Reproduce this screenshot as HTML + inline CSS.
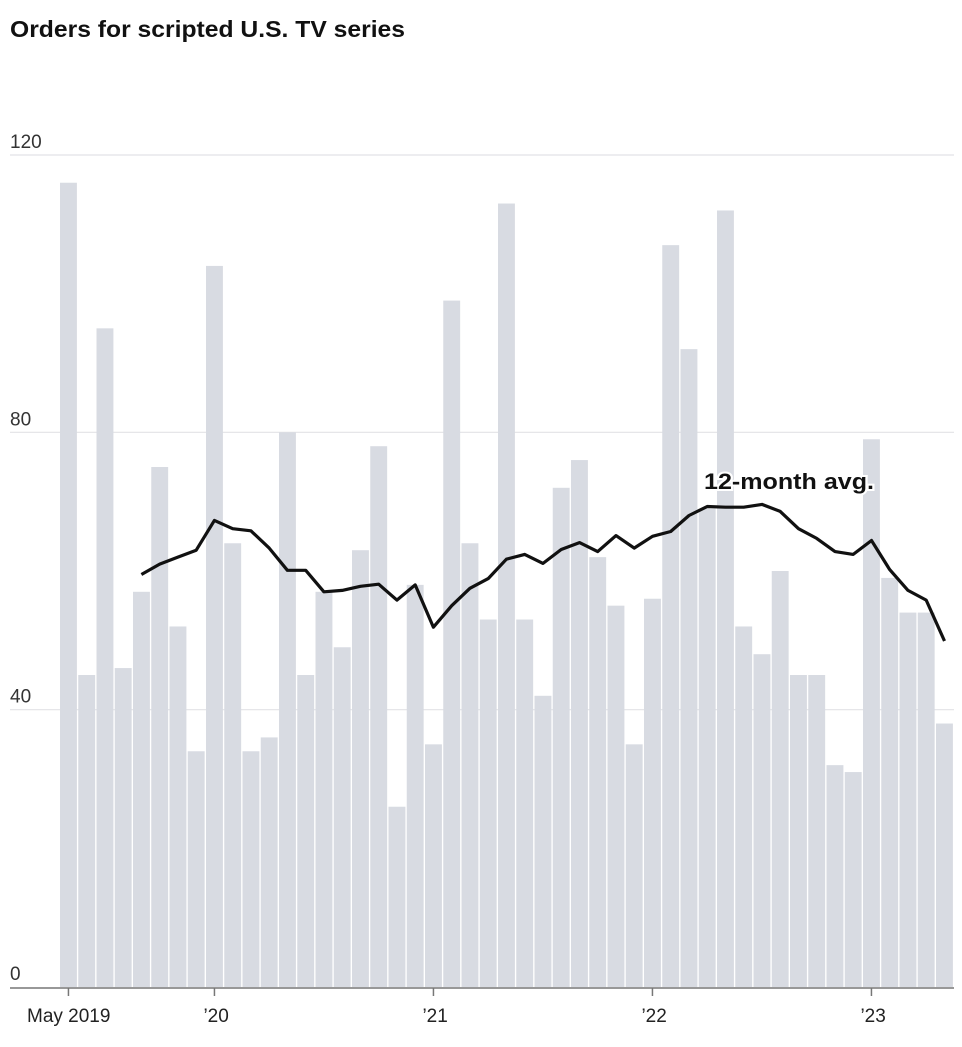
<!DOCTYPE html>
<html><head><meta charset="utf-8">
<style>
body{margin:0;background:#fff;font-family:"Liberation Sans",sans-serif;}
svg text{font-family:"Liberation Sans",sans-serif;}
</style></head>
<body>
<svg id="chart" width="962" height="1042" viewBox="0 0 962 1042">
<text x="10" y="37" font-size="23" font-weight="bold" fill="#111" textLength="395" lengthAdjust="spacingAndGlyphs">Orders for scripted U.S. TV series</text>
<g id="grid"></g><g id="bars"></g><g id="line"></g><g id="axis"></g>
</svg>
<script>
const months = ["May 2019","Jun 2019","Jul 2019","Aug 2019","Sep 2019","Oct 2019","Nov 2019","Dec 2019","Jan 2020","Feb 2020","Mar 2020","Apr 2020","May 2020","Jun 2020","Jul 2020","Aug 2020","Sep 2020","Oct 2020","Nov 2020","Dec 2020","Jan 2021","Feb 2021","Mar 2021","Apr 2021","May 2021","Jun 2021","Jul 2021","Aug 2021","Sep 2021","Oct 2021","Nov 2021","Dec 2021","Jan 2022","Feb 2022","Mar 2022","Apr 2022","May 2022","Jun 2022","Jul 2022","Aug 2022","Sep 2022","Oct 2022","Nov 2022","Dec 2022","Jan 2023","Feb 2023","Mar 2023","Apr 2023","May 2023"];
const orders = [116,45,95,46,57,75,52,34,104,64,34,36,80,45,57,49,63,78,26,58,35,99,64,53,113,53,42,72,76,62,55,35,56,107,92,69,112,52,48,60,45,45,32,31,79,59,54,54,38];
const avg12 = [null,null,null,null,59.5,61,62,63,67.3,66.1,65.8,63.3,60.1,60.1,57,57.2,57.8,58.1,55.8,58,51.9,55,57.5,58.9,61.7,62.4,61.1,63.1,64.1,62.8,65.1,63.3,65,65.7,68,69.3,69.2,69.2,69.6,68.6,66.1,64.7,62.8,62.4,64.4,60.2,57.2,55.8,49.9];
const yTicks = [0,40,80,120];
const xTickIdx = [0,8,20,32,44];
const xTickLabels = ["May 2019","\u201920","\u201921","\u201922","\u201923"];

const NS="http://www.w3.org/2000/svg";
const x0=60, step=18.25, bw=16.9;
const xc=i=>x0+i*step+bw/2;
const y=v=>987-v*(987-155)/120;
function mk(tag,attrs,parent){const e=document.createElementNS(NS,tag);for(const k in attrs)e.setAttribute(k,attrs[k]);parent.appendChild(e);return e;}
const grid=document.getElementById('grid'),bars=document.getElementById('bars'),line=document.getElementById('line'),axis=document.getElementById('axis');
yTicks.forEach(t=>{
  if(t>0){const l=mk('line',{x1:10,x2:954,y1:y(t),y2:y(t),stroke:'#e2e2e6','stroke-width':1.2},grid);
  
  }
  const tx=mk('text',{x:10,y:y(t)-7,'font-size':19,fill:'#333'},grid);tx.textContent=t;
  
  
});
orders.forEach((v,i)=>{
  const r=mk('rect',{x:x0+i*step,y:y(v),width:bw,height:y(0)-y(v),fill:'#d8dbe2'},bars);
  
  
});
let d='';avg12.forEach((v,i)=>{if(v==null)return;d+=(d?'L':'M')+xc(i).toFixed(1)+','+y(v).toFixed(1);});
const p=mk('path',{d:d,fill:'none',stroke:'#111','stroke-width':3.2,'stroke-linejoin':'round'},line);


const lab=mk('text',{x:704,y:489,'font-size':22,'font-weight':'bold',fill:'#111',stroke:'#fff','stroke-width':4,'paint-order':'stroke',textLength:170,lengthAdjust:'spacingAndGlyphs'},line);
lab.textContent='12-month avg.';


const base=mk('line',{x1:10,x2:954,y1:988,y2:988,stroke:'#777','stroke-width':1.5},axis);


xTickIdx.forEach((idx,k)=>{
  const tk=mk('line',{x1:xc(idx),x2:xc(idx),y1:988,y2:996,stroke:'#777','stroke-width':1.5},axis);
  
  
  const tx=mk('text',{x:k==0?27:xc(idx)-11,y:1022,'font-size':19,fill:'#222'},axis);
  tx.textContent=xTickLabels[k];
  
  
});
</script>
</body></html>
